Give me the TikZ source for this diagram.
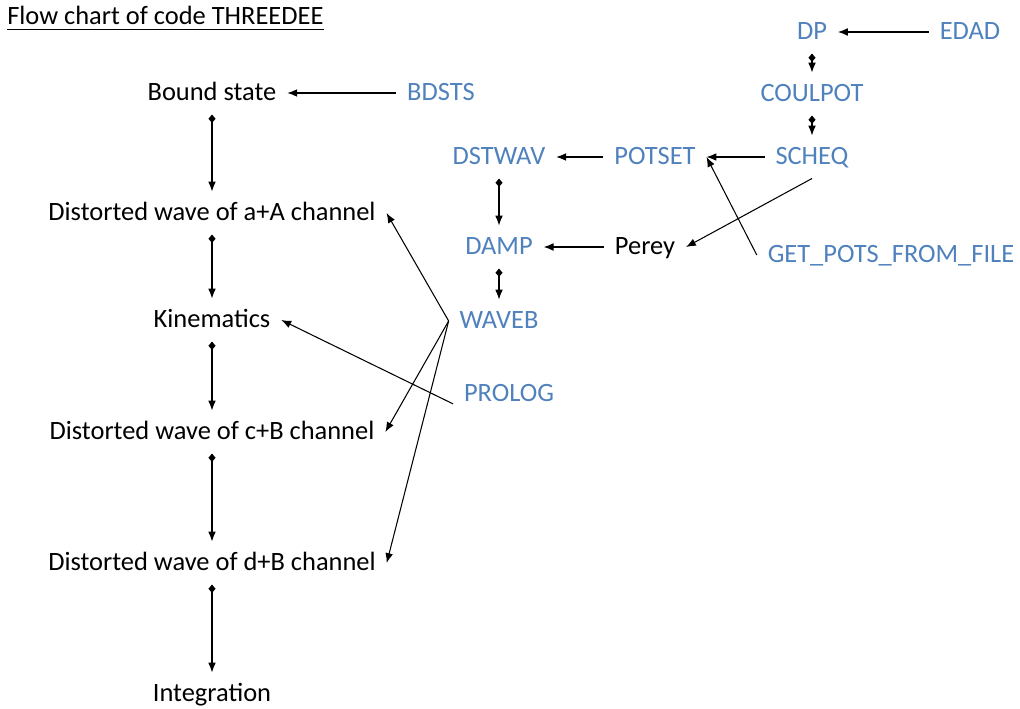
\documentclass[tikz,border=0pt]{standalone}
\usepackage{fontspec}
\setmainfont{Carlito}
\usetikzlibrary{arrows.meta}
\definecolor{routine}{RGB}{79,129,189}
\tikzset{
    stage/.style={font=\fontsize{18.8}{22}\selectfont, text height=13pt, text depth=2pt, inner sep=6.3pt, outer sep=1.5pt},
    sub/.style={stage, text=routine},
    feed/.style={-{Latex[length=7pt,width=5.5pt]}, line width=0.75pt},
    chain/.style={{Diamond[length=6pt,width=5pt]}-{Latex[length=7pt,width=5.5pt]}, line width=0.75pt}
}
\begin{document}
\begin{tikzpicture}[x=0.025cm, y=-0.025cm]
        \useasboundingbox (0,0) rectangle (1020,709);
        \node [font=\fontsize{18.8}{22}\selectfont, inner sep=0, anchor=base west] (title) at (7,25) {Flow chart of code THREEDEE};
        \draw [line width=1.4pt] ([yshift=-3.2pt]title.base west) -- ([yshift=-3.2pt]title.base east);
        \node [stage] (bound) at (212,93) {Bound state};
        \node [stage] (aA) at (212,213) {Distorted wave of a+A channel};
        \node [stage] (kin) at (212,320) {Kinematics};
        \node [stage] (cB) at (212,432) {Distorted wave of c+B channel};
        \node [stage] (dB) at (212,563) {Distorted wave of d+B channel};
        \node [stage] (integ) at (212,694) {Integration};
        \node [sub] (bdsts) at (441,93) {BDSTS};
        \node [sub] (dp) at (812,32) {DP};
        \node [sub] (edad) at (970,32) {EDAD};
        \node [sub] (coulpot) at (812,94) {COULPOT};
        \node [sub] (scheq) at (812,157) {SCHEQ};
        \node [sub] (potset) at (655,157) {POTSET};
        \node [sub] (dstwav) at (499,157) {DSTWAV};
        \node [sub] (damp) at (499,247) {DAMP};
        \node [stage] (perey) at (645,247) {Perey};
        \node [sub] (getpots) at (891,255) {GET\_POTS\_FROM\_FILE};
        \node [sub] (waveb) at (499,321) {WAVEB};
        \node [sub] (prolog) at (509,394) {PROLOG};
        \draw [chain] (bound) to (aA);
        \draw [chain] (aA) to (kin);
        \draw [chain] (kin) to (cB);
        \draw [chain] (cB) to (dB);
        \draw [chain] (dB) to (integ);
        \draw [chain] (dp) to (coulpot);
        \draw [chain] (coulpot) to (scheq);
        \draw [chain] (dstwav) to (damp);
        \draw [chain] (damp) to (waveb);
        \draw [feed] (bdsts) to (bound);
        \draw [feed] (edad) to (dp);
        \draw [feed] (scheq) to (potset);
        \draw [feed] (potset) to (dstwav);
        \draw [feed] (perey) to (damp);
        \draw [feed] (scheq.south) to (perey.east);
        \draw [feed] (getpots.west) to (potset.east);
        \draw [feed] (waveb.west) to (aA.east);
        \draw [feed] (waveb.west) to (cB.east);
        \draw [feed] (waveb.west) to (dB.east);
        \draw [feed] (prolog.190) to (kin.east);
\end{tikzpicture}
\end{document}
